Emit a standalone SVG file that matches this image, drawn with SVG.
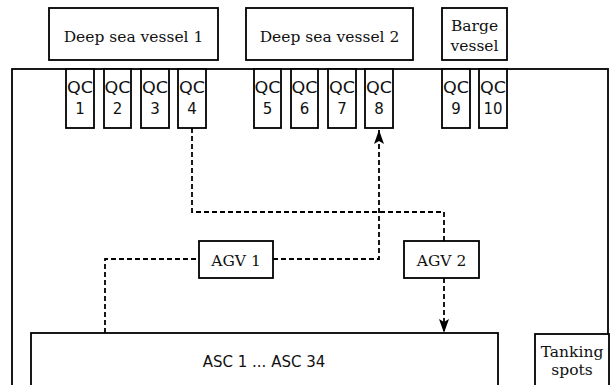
<svg xmlns="http://www.w3.org/2000/svg" width="611" height="385" viewBox="0 0 611 385">
<style>
.box{fill:#fff;stroke:#000;stroke-width:1.8}
.t{font-family:"DejaVu Serif","Liberation Serif",serif;font-size:15.5px;fill:#111;text-anchor:middle}
.q{font-family:"DejaVu Sans","Liberation Sans",sans-serif;font-size:15px;fill:#111;text-anchor:middle}
.c{fill:none;stroke:#000;stroke-width:1.8;stroke-dasharray:5 3}
</style>
<defs>
<marker id="arr" viewBox="0 0 14 10" refX="14" refY="5" markerWidth="14" markerHeight="10" markerUnits="userSpaceOnUse" orient="auto">
<path d="M0,0 L14,5 L0,10 L3,5 z" fill="#000"/>
</marker>
</defs>
<g id="terminal"><rect class="box" x="12" y="69" width="596" height="330"/></g>
<g id="vessel1"><rect class="box" x="49" y="8" width="169" height="52"/><text class="t" x="133.5" y="42">Deep sea vessel 1</text></g>
<g id="vessel2"><rect class="box" x="246" y="8" width="167" height="52"/><text class="t" x="329.5" y="42">Deep sea vessel 2</text></g>
<g id="barge"><rect class="box" x="442" y="8" width="65" height="52"/><text class="t" x="474.5" y="31">Barge</text><text class="t" x="474.5" y="51">vessel</text></g>
<g id="qc1"><rect class="box" x="66" y="69" width="28" height="59"/><text class="q" x="80" y="93" textLength="26" lengthAdjust="spacingAndGlyphs">QC</text><text class="q" x="80" y="114">1</text></g>
<g id="qc2"><rect class="box" x="104" y="69" width="27" height="59"/><text class="q" x="117.5" y="93" textLength="26" lengthAdjust="spacingAndGlyphs">QC</text><text class="q" x="117.5" y="114">2</text></g>
<g id="qc3"><rect class="box" x="141" y="69" width="28" height="59"/><text class="q" x="155" y="93" textLength="26" lengthAdjust="spacingAndGlyphs">QC</text><text class="q" x="155" y="114">3</text></g>
<g id="qc4"><rect class="box" x="178" y="69" width="28" height="59"/><text class="q" x="192" y="93" textLength="26" lengthAdjust="spacingAndGlyphs">QC</text><text class="q" x="192" y="114">4</text></g>
<g id="qc5"><rect class="box" x="254" y="69" width="27" height="59"/><text class="q" x="267.5" y="93" textLength="26" lengthAdjust="spacingAndGlyphs">QC</text><text class="q" x="267.5" y="114">5</text></g>
<g id="qc6"><rect class="box" x="291" y="69" width="27" height="59"/><text class="q" x="304.5" y="93" textLength="26" lengthAdjust="spacingAndGlyphs">QC</text><text class="q" x="304.5" y="114">6</text></g>
<g id="qc7"><rect class="box" x="328" y="69" width="28" height="59"/><text class="q" x="342" y="93" textLength="26" lengthAdjust="spacingAndGlyphs">QC</text><text class="q" x="342" y="114">7</text></g>
<g id="qc8"><rect class="box" x="365" y="69" width="28" height="59"/><text class="q" x="379" y="93" textLength="26" lengthAdjust="spacingAndGlyphs">QC</text><text class="q" x="379" y="114">8</text></g>
<g id="qc9"><rect class="box" x="442" y="69" width="28" height="59"/><text class="q" x="456" y="93" textLength="26" lengthAdjust="spacingAndGlyphs">QC</text><text class="q" x="456" y="114">9</text></g>
<g id="qc10"><rect class="box" x="479" y="69" width="28" height="59"/><text class="q" x="493" y="93" textLength="26" lengthAdjust="spacingAndGlyphs">QC</text><text class="q" x="493" y="114">10</text></g>
<g id="connectors">
<path class="c" d="M192,128 V212 H444 V241"/>
<path class="c" d="M444,278 V333" marker-end="url(#arr)"/>
<path class="c" d="M105,333 V259 H199"/>
<path class="c" d="M273,259 H379 V130" marker-end="url(#arr)"/>
</g>
<g id="agv1"><rect class="box" x="199" y="241" width="74" height="37"/><text class="t" x="236" y="266">AGV 1</text></g>
<g id="agv2"><rect class="box" x="404" y="241" width="75" height="37"/><text class="t" x="441.5" y="266">AGV 2</text></g>
<g id="asc"><rect class="box" x="31" y="333" width="467" height="60"/><text class="q" x="264" y="367">ASC 1 ... ASC 34</text></g>
<g id="tanking"><rect class="box" x="535" y="334" width="74" height="60"/><text class="t" x="572" y="357">Tanking</text><text class="t" x="572" y="375">spots</text></g>
</svg>
